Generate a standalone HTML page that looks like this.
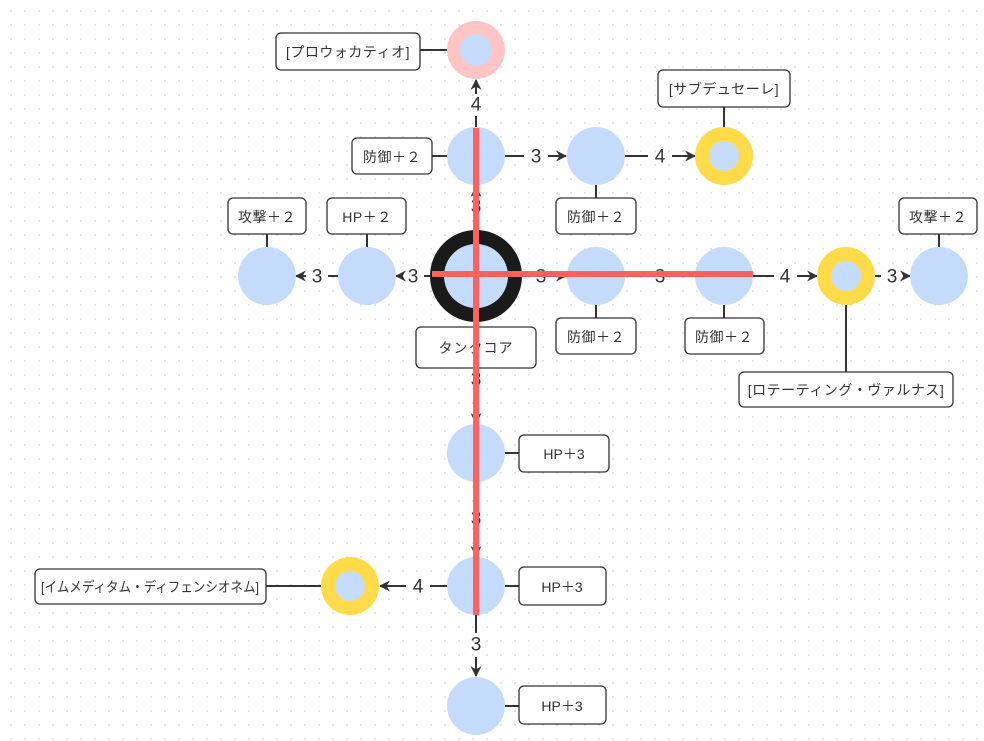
<!DOCTYPE html>
<html><head><meta charset="utf-8"><style>
html,body{margin:0;padding:0;background:#fff;}
body{width:984px;height:741px;overflow:hidden;background-image:radial-gradient(circle,#d4d4d4 0.7px,transparent 1px);background-size:14px 14px;background-position:4px 4px;}
svg{position:absolute;left:0;top:0;}
text{font-family:"Liberation Sans","Noto Sans CJK JP",sans-serif;fill:#333;}
.lb{font-size:14px;text-anchor:middle;dominant-baseline:central;}
.num{font-size:19px;text-anchor:middle;dominant-baseline:central;fill:#333;}
</style></head><body>
<svg width="984" height="741" viewBox="0 0 984 741">
<defs><marker id="a" viewBox="0 0 10 10" refX="9" refY="5" markerWidth="5.5" markerHeight="5.5" orient="auto"><path d="M0,0 L10,5 L0,10 L3,5 z" fill="#333"/></marker></defs>
<g stroke="#333" stroke-width="2" fill="none">
<line x1="420" y1="50" x2="448" y2="50"/>
<line x1="432" y1="156" x2="448" y2="156"/>
<line x1="724" y1="107" x2="724" y2="128"/>
<line x1="596" y1="185" x2="596" y2="198"/>
<line x1="267" y1="234" x2="267" y2="247"/>
<line x1="367" y1="234" x2="367" y2="247"/>
<line x1="939" y1="234" x2="939" y2="247"/>
<line x1="596" y1="305" x2="596" y2="318"/>
<line x1="724" y1="305" x2="724" y2="318"/>
<line x1="846" y1="305" x2="846" y2="372"/>
<line x1="505" y1="453" x2="519" y2="453"/>
<line x1="505" y1="586" x2="519" y2="586"/>
<line x1="505" y1="706" x2="519" y2="706"/>
<line x1="266" y1="586" x2="322" y2="586"/>
<line x1="476" y1="127" x2="476" y2="116"/><line x1="476" y1="94" x2="476" y2="80" marker-end="url(#a)"/>
<line x1="476" y1="230" x2="476" y2="218"/><line x1="476" y1="196" x2="476" y2="187" marker-end="url(#a)"/>
<line x1="505" y1="156" x2="524" y2="156"/><line x1="548" y1="156" x2="566" y2="156" marker-end="url(#a)"/>
<line x1="625" y1="156" x2="648" y2="156"/><line x1="672" y1="156" x2="695" y2="156" marker-end="url(#a)"/>
<line x1="430" y1="276" x2="424" y2="276"/><line x1="403" y1="276" x2="396" y2="276" marker-end="url(#a)"/>
<line x1="338" y1="276" x2="328" y2="276"/><line x1="306" y1="276" x2="296" y2="276" marker-end="url(#a)"/>
<line x1="522" y1="276" x2="530" y2="276"/><line x1="552" y1="276" x2="566" y2="276" marker-end="url(#a)"/>
<line x1="625" y1="276" x2="648" y2="276"/><line x1="672" y1="276" x2="695" y2="276"/>
<line x1="753" y1="276" x2="774" y2="276"/><line x1="797" y1="276" x2="817" y2="276" marker-end="url(#a)"/>
<line x1="875" y1="276" x2="881" y2="276"/><line x1="903" y1="276" x2="910" y2="276" marker-end="url(#a)"/>
<line x1="476" y1="368" x2="476" y2="370"/><line x1="476" y1="390" x2="476" y2="423" marker-end="url(#a)"/>
<line x1="476" y1="482" x2="476" y2="508"/><line x1="476" y1="530" x2="476" y2="556" marker-end="url(#a)"/>
<line x1="447" y1="586" x2="430" y2="586"/><line x1="406" y1="586" x2="380" y2="586" marker-end="url(#a)"/>
<line x1="476" y1="615" x2="476" y2="633"/><line x1="476" y1="657" x2="476" y2="676" marker-end="url(#a)"/>
</g>
<g>
<text x="476" y="105" class="num">4</text>
<text x="476" y="207" class="num">3</text>
<text x="536" y="157" class="num">3</text>
<text x="660" y="157" class="num">4</text>
<text x="413" y="277" class="num">3</text>
<text x="317" y="277" class="num">3</text>
<text x="541" y="277" class="num">3</text>
<text x="660" y="277" class="num">3</text>
<text x="785" y="277" class="num">4</text>
<text x="892" y="277" class="num">3</text>
<text x="476" y="380" class="num">3</text>
<text x="476" y="519" class="num">3</text>
<text x="418" y="587" class="num">4</text>
<text x="476" y="645" class="num">3</text>
</g>
<g fill="#c5dbfc">
<circle cx="476" cy="50" r="29" fill="#ffc4c4"/><circle cx="476" cy="50" r="16"/>
<circle cx="476" cy="156" r="29"/><circle cx="596" cy="156" r="29"/>
<circle cx="724" cy="156" r="29" fill="#ffdb4a"/><circle cx="724" cy="156" r="15"/>
<circle cx="267" cy="276" r="29"/><circle cx="367" cy="276" r="29"/>
<circle cx="476" cy="276" r="46" fill="#1a1a1a"/><circle cx="476" cy="276" r="32"/>
<circle cx="596" cy="276" r="29"/><circle cx="724" cy="276" r="29"/>
<circle cx="846" cy="276" r="29" fill="#ffdb4a"/><circle cx="846" cy="276" r="15"/>
<circle cx="939" cy="276" r="29"/>
<circle cx="476" cy="453" r="29"/><circle cx="476" cy="586" r="29"/><circle cx="476" cy="706" r="29"/>
<circle cx="350" cy="586" r="29" fill="#ffdb4a"/><circle cx="350" cy="586" r="15"/>
</g>
<g fill="#fff" stroke="#333" stroke-width="1.3">
<rect x="276" y="33" width="144" height="37" rx="5"/>
<rect x="352" y="138" width="80" height="36" rx="5"/>
<rect x="658" y="70" width="132" height="37" rx="5"/>
<rect x="556" y="198" width="80" height="36" rx="5"/>
<rect x="228" y="198" width="78" height="36" rx="5"/>
<rect x="327" y="198" width="79" height="36" rx="5"/>
<rect x="899" y="198" width="78" height="36" rx="5"/>
<rect x="556" y="318" width="80" height="36" rx="5"/>
<rect x="685" y="318" width="79" height="36" rx="5"/>
<rect x="416" y="327" width="120" height="41" rx="5"/>
<rect x="739" y="372" width="214" height="35" rx="5"/>
<rect x="519" y="435" width="90" height="37" rx="5"/>
<rect x="519" y="567" width="87" height="38" rx="5"/>
<rect x="519" y="686" width="87" height="38" rx="5"/>
<rect x="35" y="569" width="231" height="35" rx="5"/>
</g>
<g>
<text class="lb" x="348" y="52" letter-spacing="0.5">[プロウォカティオ]</text>
<text class="lb" x="392" y="157" letter-spacing="0.5">防御＋２</text>
<text class="lb" x="724" y="89" letter-spacing="0.5">[サブデュセーレ]</text>
<text class="lb" x="596" y="217" letter-spacing="0.5">防御＋２</text>
<text class="lb" x="267" y="217" letter-spacing="0.5">攻撃＋２</text>
<text class="lb" x="367" y="217" letter-spacing="0.5">HP＋２</text>
<text class="lb" x="938" y="217" letter-spacing="0.5">攻撃＋２</text>
<text class="lb" x="596" y="337" letter-spacing="0.5">防御＋２</text>
<text class="lb" x="724" y="337" letter-spacing="0.5">防御＋２</text>
<text class="lb" x="476" y="348" letter-spacing="1">タンクコア</text>
<text class="lb" x="846" y="390" letter-spacing="0.5">[ロテーティング・ヴァルナス]</text>
<text class="lb" x="564" y="454">HP＋3</text>
<text class="lb" x="562" y="587">HP＋3</text>
<text class="lb" x="562" y="706">HP＋3</text>
<text class="lb" x="150" y="587" textLength="218" lengthAdjust="spacingAndGlyphs">[イムメディタム・ディフェンシオネム]</text>
</g>
<g stroke="#ff6161" stroke-width="6">
<line x1="476" y1="128" x2="476" y2="615"/>
<line x1="432" y1="274" x2="753" y2="274"/>
</g>
</svg>
</body></html>
